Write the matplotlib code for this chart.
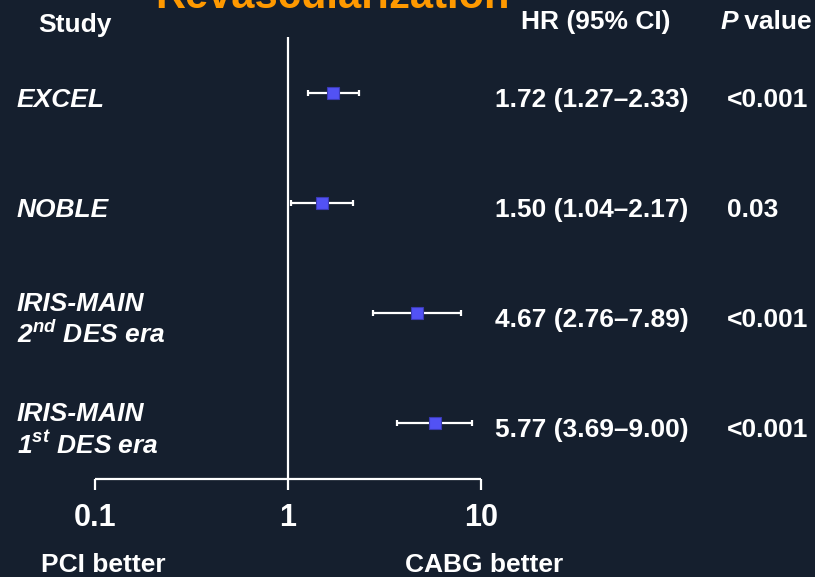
import numpy as np
import matplotlib
matplotlib.use('Agg')
import matplotlib.pyplot as plt
from matplotlib import transforms

# Forest plot: revascularization, CABG vs PCI
studies = ['EXCEL', 'NOBLE',
           'IRIS-MAIN\n2$^{\\mathbf{nd}}$ DES era',
           'IRIS-MAIN\n1$^{\\mathbf{st}}$ DES era']
hr = np.array([1.72, 1.50, 4.67, 5.77])
ci_lo = np.array([1.27, 1.04, 2.76, 3.69])
ci_hi = np.array([2.33, 2.17, 7.89, 9.00])
p_values = ['<0.001', '0.03', '<0.001', '<0.001']
x_ticks = [0.1, 1, 10]
x_tick_labels = ['0.1', '1', '10']

BG = '#151f2e'
ORANGE = '#ff9900'
BOX = '#5252f4'

plt.rcParams['font.family'] = 'Liberation Sans'
plt.rcParams['font.weight'] = 'bold'
plt.rcParams['mathtext.fontset'] = 'custom'
plt.rcParams['mathtext.bf'] = 'Liberation Sans:italic:bold'

W, H = 815, 577
fig = plt.figure(figsize=(W / 100, H / 100), dpi=100, facecolor=BG)
ax = fig.add_axes([0, 0, 1, 1], facecolor=BG)
ax.set_xscale('log')
# one decade = 193 px, 0.1 sits at x = 95 px
ax.set_xlim(10 ** (-1 - 95 / 193), 10 ** (-1 + (W - 95) / 193))
ax.set_ylim(H, 0)  # y in pixels from the top
ax.axis('off')

rows = 93 + 110 * np.arange(len(hr))
col = transforms.blended_transform_factory(ax.transAxes, ax.transData)


def hr_at(px):
    return 10 ** (-1 + (px - 95) / 193)


fs = 19

# reference line and bottom scale
ax.vlines(1, 37, 490, color='white', lw=1.6)
ax.plot([x_ticks[0], x_ticks[-1]], [479, 479], color='white', lw=1.6,
        solid_capstyle='butt')
ax.vlines([x_ticks[0], x_ticks[-1]], 479, 490, color='white', lw=1.6)
for xv, lab in zip(x_ticks, x_tick_labels):
    ax.text(xv, 526, lab, ha='center', va='baseline', fontsize=22,
            color='white')

ax.text(hr_at(103), 572, 'PCI better', ha='center', va='baseline',
        fontsize=fs, color='white')
ax.text(hr_at(484), 572, 'CABG better', ha='center', va='baseline',
        fontsize=fs, color='white')

# estimates with confidence intervals
ax.errorbar(hr, rows, xerr=[hr - ci_lo, ci_hi - hr], fmt='none',
            ecolor='white', elinewidth=1.6, capsize=2.4, capthick=1.6,
            zorder=2)
ax.plot(hr, rows, 's', ms=9, mfc=BOX, mec='#3a3ab5', mew=0.8, zorder=3)

# headers
ax.text(333 / W, 7.5, 'Revascularization', ha='center', va='baseline',
        fontsize=30, color=ORANGE, transform=col)
ax.text(38 / W, 32, 'Study', ha='left', va='baseline', fontsize=fs,
        color='white', transform=col)
ax.text(596 / W, 29, 'HR (95% CI)', ha='center', va='baseline',
        fontsize=fs, color='white', transform=col)
p_head = ax.text(721 / W, 29, 'P', ha='left', va='baseline', fontsize=fs,
                 color='white', style='italic', transform=col)
ax.annotate('\u2009value', xy=(1, 0), xycoords=p_head, ha='left',
            va='bottom', fontsize=fs, color='white')

# table rows
for y, name, h, lo, hi, p in zip(rows, studies, hr, ci_lo, ci_hi, p_values):
    lines = name.split('\n')
    base = y + 14 - 16 * (len(lines) - 1)
    for k, line in enumerate(lines):
        ax.text(17 / W, base + 32 * k, line, ha='left', va='baseline',
                fontsize=fs, color='white', style='italic', transform=col)
    ax.text(592 / W, y + 14, f'{h:.2f} ({lo:.2f}\u2013{hi:.2f})',
            ha='center', va='baseline', fontsize=fs, color='white',
            transform=col)
    ax.text(727 / W, y + 14, p, ha='left', va='baseline', fontsize=fs,
            color='white', transform=col)

fig.savefig('out.png', dpi=100, facecolor=BG)
